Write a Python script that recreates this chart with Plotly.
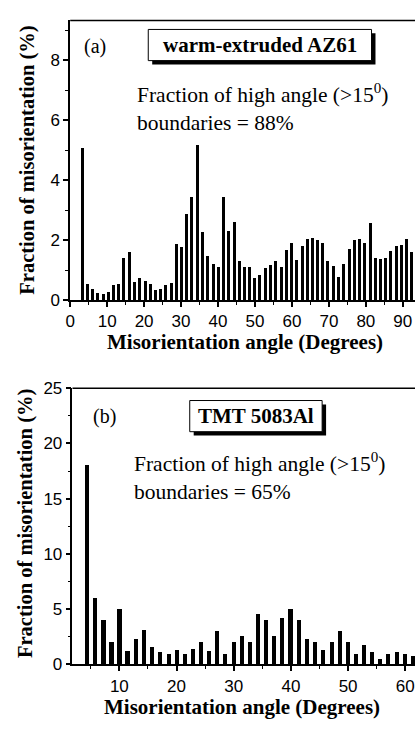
import plotly.graph_objects as go

# ---------------- data ----------------
angle_a = [3.3, 4.7, 6.1, 7.5, 9.0, 10.4, 11.8, 13.2, 14.6, 16.0,
           17.5, 18.9, 20.3, 21.7, 23.1, 24.5, 25.9, 27.4, 28.8, 30.2,
           31.6, 33.0, 34.5, 35.9, 37.3, 38.7, 40.1, 41.5, 42.9, 44.4,
           45.8, 47.2, 48.6, 50.0, 51.4, 52.9, 54.3, 55.7, 57.1, 58.5,
           59.9, 61.4, 62.8, 64.2, 65.6, 67.0, 68.4, 69.8, 71.3, 72.7,
           74.1, 75.5, 76.9, 78.3, 79.8, 81.2, 82.6, 84.0, 85.4, 86.8,
           88.3, 89.7, 91.1, 92.5]
frac_a = [5.05, 0.52, 0.37, 0.22, 0.18, 0.26, 0.50, 0.52, 1.41, 1.58,
          0.60, 0.72, 0.64, 0.54, 0.32, 0.37, 0.50, 0.57, 1.85, 1.75,
          2.87, 3.43, 5.17, 2.26, 1.45, 1.18, 1.11, 3.43, 2.29, 2.61,
          1.29, 1.10, 1.09, 0.72, 0.83, 1.07, 1.15, 1.30, 1.08, 1.66,
          1.88, 1.34, 1.80, 2.04, 2.05, 1.99, 1.89, 1.29, 1.12, 0.77,
          1.20, 1.70, 1.99, 2.04, 1.91, 2.57, 1.41, 1.35, 1.38, 1.62,
          1.78, 1.84, 2.03, 1.58]

angle_b = [4.4, 5.8, 7.3, 8.7, 10.1, 11.5, 13.0, 14.4, 15.8, 17.2,
           18.7, 20.1, 21.5, 22.9, 24.4, 25.8, 27.2, 28.6, 30.1, 31.5,
           32.9, 34.3, 35.8, 37.2, 38.6, 40.0, 41.5, 42.9, 44.3, 45.7,
           47.2, 48.6, 50.0, 51.4, 52.9, 54.3, 55.7, 57.1, 58.6, 60.0,
           61.4]
frac_b = [18.0, 6.0, 4.0, 2.03, 4.97, 1.24, 2.29, 3.12, 1.56, 1.12,
          0.97, 1.26, 0.97, 1.38, 2.0, 1.24, 3.03, 0.97, 2.0, 2.53,
          2.0, 4.53, 4.0, 2.53, 4.2, 5.0, 4.0, 2.26, 2.0, 1.26,
          2.0, 3.03, 2.0, 0.97, 1.79, 1.09, 0.5, 0.97, 1.12, 0.91,
          0.79]

x_title = "Misorientation angle (Degrees)"
y_title = "Fraction of misorientation (%)"
label_a = "warm-extruded AZ61"
label_b = "TMT 5083Al"
note_a = "Fraction of high angle (>15<sup>0</sup>)<br>boundaries = 88%"
note_b = "Fraction of high angle (>15<sup>0</sup>)<br>boundaries = 65%"

# ---------------- layout helpers ----------------
W, H = 415, 729
def px(x):
    return x / W
def py(y):
    return 1 - y / H

SERIF = "Liberation Serif, Times New Roman, serif"
SANS = "Liberation Sans, Arial, sans-serif"

fig = go.Figure()
fig.add_trace(go.Bar(x=angle_a, y=frac_a, width=0.82,
                     marker=dict(color="black", line=dict(width=0)),
                     xaxis="x", yaxis="y", showlegend=False))
fig.add_trace(go.Bar(x=angle_b, y=frac_b, width=0.72,
                     marker=dict(color="black", line=dict(width=0)),
                     xaxis="x2", yaxis="y2", showlegend=False))

axis_common = dict(showline=True, linecolor="black", linewidth=1.5,
                   ticks="outside", ticklen=5, tickwidth=1.5, tickcolor="black",
                   showgrid=False, zeroline=False,
                   tickfont=dict(family=SANS, size=17, color="black"))

fig.update_layout(
    width=W, height=H,
    margin=dict(l=0, r=0, t=0, b=0),
    paper_bgcolor="white", plot_bgcolor="white",
    bargap=0,
    xaxis=dict(domain=[px(66), 1], range=[0, 93.3], anchor="y",
               tick0=0, dtick=10,
               minor=dict(dtick=5, ticklen=3, tickwidth=1, tickcolor="black", ticks="outside"),
               **axis_common),
    yaxis=dict(domain=[py(299), py(11.7)], range=[0, 9.33], anchor="x",
               tick0=0, dtick=2,
               minor=dict(dtick=1, ticklen=3, tickwidth=1, tickcolor="black", ticks="outside"),
               **axis_common),
    xaxis2=dict(domain=[px(68.3), 1], range=[1.8, 61.7], anchor="y2",
                tick0=0, dtick=10,
                minor=dict(dtick=5, ticklen=3, tickwidth=1, tickcolor="black", ticks="outside"),
                **axis_common),
    yaxis2=dict(domain=[py(673), py(389.3)], range=[0, 25], anchor="x2",
                tick0=0, dtick=5,
                minor=dict(dtick=2.5, ticklen=3, tickwidth=1, tickcolor="black", ticks="outside"),
                **axis_common),
)

shapes = [
    # top frame lines
    dict(type="line", xref="x domain", yref="y domain", x0=0, x1=1, y0=1, y1=1,
         line=dict(color="black", width=1.5)),
    dict(type="line", xref="x2 domain", yref="y2 domain", x0=0, x1=1, y0=1, y1=1,
         line=dict(color="black", width=1.5)),
    # label boxes with shadow
    dict(type="rect", xref="paper", yref="paper", x0=px(149), x1=px(375), y0=py(57), y1=py(25),
         fillcolor="black", line=dict(width=0)),
    dict(type="rect", xref="paper", yref="paper", x0=px(145), x1=px(371), y0=py(53), y1=py(21),
         fillcolor="white", line=dict(color="black", width=1)),
    dict(type="rect", xref="paper", yref="paper", x0=px(191), x1=px(325), y0=py(438), y1=py(406),
         fillcolor="black", line=dict(width=0)),
    dict(type="rect", xref="paper", yref="paper", x0=px(187), x1=px(321), y0=py(434), y1=py(402),
         fillcolor="white", line=dict(color="black", width=1)),
]
fig.update_layout(shapes=shapes)

ann = [
    dict(text="<b>" + label_a + "</b>", x=px(258), y=py(37), font=dict(family=SERIF, size=21, color="black"),
         xanchor="center", yanchor="middle"),
    dict(text="<b>" + label_b + "</b>", x=px(254), y=py(418), font=dict(family=SERIF, size=21, color="black"),
         xanchor="center", yanchor="middle"),
    dict(text="(a)", x=px(91), y=py(39), font=dict(family=SERIF, size=20, color="black"),
         xanchor="center", yanchor="middle"),
    dict(text="(b)", x=px(101), y=py(418), font=dict(family=SERIF, size=20, color="black"),
         xanchor="center", yanchor="middle"),
    dict(text=note_a, x=px(132), y=py(101), font=dict(family=SERIF, size=21.5, color="black"),
         xanchor="left", yanchor="middle", align="left"),
    dict(text=note_b, x=px(128.5), y=py(480), font=dict(family=SERIF, size=21.5, color="black"),
         xanchor="left", yanchor="middle", align="left"),
    dict(text="<b>" + x_title + "</b>", x=px(243), y=py(342), font=dict(family=SERIF, size=21, color="black"),
         xanchor="center", yanchor="middle"),
    dict(text="<b>" + x_title + "</b>", x=px(240), y=py(717), font=dict(family=SERIF, size=21, color="black"),
         xanchor="center", yanchor="middle"),
    dict(text="<b>" + y_title + "</b>", x=px(23), y=py(155), textangle=-90,
         font=dict(family=SERIF, size=20.5, color="black"), xanchor="center", yanchor="middle"),
    dict(text="<b>" + y_title + "</b>", x=px(20), y=py(528), textangle=-90,
         font=dict(family=SERIF, size=20.5, color="black"), xanchor="center", yanchor="middle"),
]
for a in ann:
    a.update(xref="paper", yref="paper", showarrow=False)
fig.update_layout(annotations=ann)

fig.write_html("out.html")
